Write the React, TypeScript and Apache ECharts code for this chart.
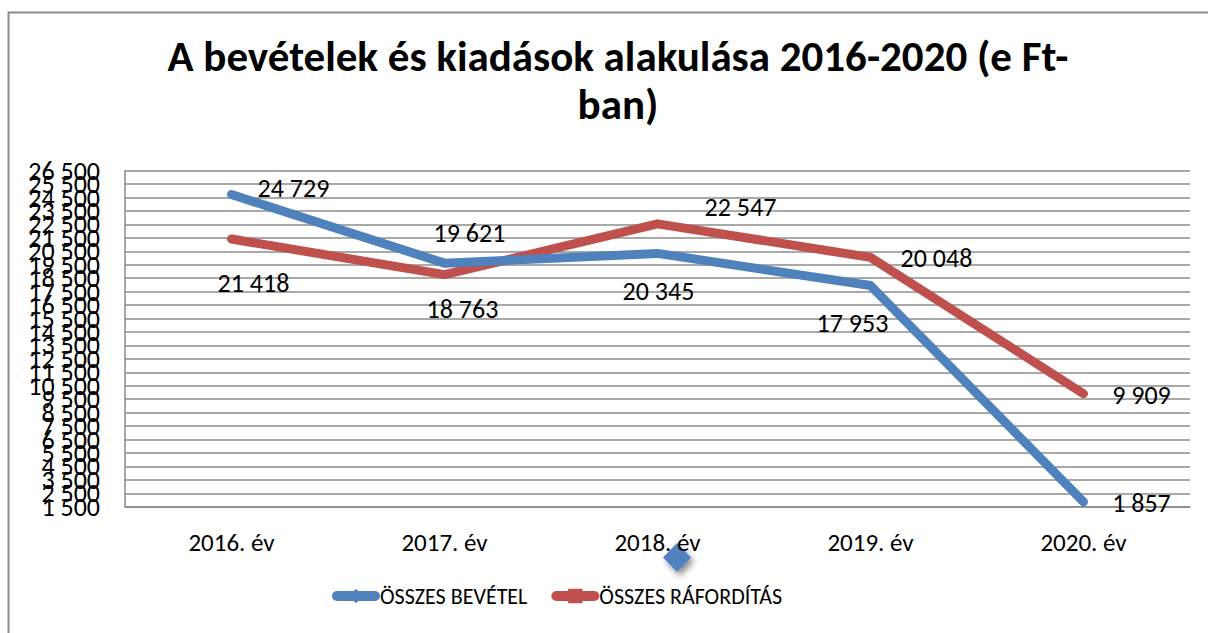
import React, { useEffect, useRef } from "react";
import * as echarts from "echarts";

const categories = ["2016. év", "2017. év", "2018. év", "2019. év", "2020. év"];
const bevetel = [24729, 19621, 20345, 17953, 1857];
const raforditas = [21418, 18763, 22547, 20048, 9909];
const bevetelLabelOffsets = [[62, -7], [25, -30], [1, 38], [-18, 37], [58, 1]];
const raforditasLabelOffsets = [[22, 44], [18, 34], [83, -17], [66, 1], [58, 1]];
const seriesNames = ["ÖSSZES BEVÉTEL", "ÖSSZES RÁFORDÍTÁS"];
const titleText = "A bevételek és kiadások alakulása 2016-2020 (e Ft-\nban)";
const yMin = 1500;
const yMax = 26500;
const yStep = 1000;

const FONT = "Carlito, 'Liberation Sans', sans-serif";
const fmt = (v: number) => {
  const s = Math.round(v).toString();
  return s.replace(/\B(?=(\d{3})+(?!\d))/g, " ");
};

export default function App() {
  const ref = useRef<HTMLDivElement>(null);
  useEffect(() => {
    document.body.style.margin = "0";
    const chart = echarts.init(ref.current!, undefined, { renderer: "svg" });
    const mk = (vals: number[], offs: number[][]) =>
      vals.map((v, i) => ({
        value: v,
        label: { offset: offs[i] },
      }));
    const labelBase = {
      show: true,
      position: "inside",
      align: "center",
      verticalAlign: "middle",
      fontFamily: FONT,
      fontSize: 26,
      color: "#000",
      formatter: (p: any) => fmt(p.value),
    };
    const yLabel = {
      fontFamily: FONT,
      fontSize: 26,
      lineHeight: 12,
      color: "#000",
      margin: 25,
      formatter: (v: number) => fmt(v),
    };
    chart.setOption({
      animation: false,
      title: {
        text: titleText,
        left: 613,
        top: 27,
        textAlign: "center",
        textStyle: {
          fontFamily: FONT,
          fontWeight: "bold",
          fontSize: 43,
          lineHeight: 48,
          color: "#000",
        },
      },
      legend: {
        left: 327,
        top: 580,
        itemWidth: 38,
        itemHeight: 18,
        itemGap: 24,
        lineStyle: { width: 10, cap: "round" },
        textStyle: { fontFamily: FONT, fontSize: 22, color: "#000", padding: [0, 0, 0, 0] },
        data: seriesNames,
      },
      grid: { left: 125, right: 18, top: 170.7, bottom: 126.3 },
      xAxis: {
        type: "category",
        data: categories,
        boundaryGap: true,
        axisTick: { show: false },
        axisLine: { lineStyle: { color: "#888", width: 1.5 } },
        axisLabel: { fontFamily: FONT, fontSize: 25, color: "#000", margin: 23 },
      },
      yAxis: [
        {
          type: "value",
          min: yMin,
          max: yMax,
          interval: yStep,
          position: "left",
          axisLine: { show: true, lineStyle: { color: "#888", width: 1.5 } },
          axisTick: { show: false },
          splitLine: { lineStyle: { color: "#8c8c8c", width: 1.5 } },
          axisLabel: { ...yLabel, showMinLabel: false, showMaxLabel: false },
        },
        {
          type: "value",
          min: yMin,
          max: yMax,
          interval: yMax - yMin,
          position: "left",
          axisLine: { show: false },
          axisTick: { show: false },
          splitLine: { show: false },
          axisLabel: { ...yLabel, showMinLabel: true, showMaxLabel: true },
        },
      ],
      series: [
        {
          name: seriesNames[0],
          type: "line",
          data: mk(bevetel, bevetelLabelOffsets),
          symbol: "diamond",
          symbolSize: 2,
          color: "#4F81BD",
          lineStyle: { width: 9, color: "#4F81BD", cap: "round", join: "round" },
          label: labelBase,
          z: 3,
        },
        {
          name: seriesNames[1],
          type: "line",
          data: mk(raforditas, raforditasLabelOffsets),
          symbol: "rect",
          symbolSize: 2,
          color: "#C0504D",
          lineStyle: { width: 9, color: "#C0504D", cap: "round", join: "round" },
          label: labelBase,
          z: 2,
        },
      ],
      graphic: [
        {
          type: "rect",
          shape: { x: 8.5, y: 12.5, width: 1220, height: 660 },
          style: { fill: "none", stroke: "#8a8a8a", lineWidth: 2 },
          silent: true,
        },
        {
          type: "polygon",
          shape: { points: [[677, 543], [691, 557.5], [677, 572], [663, 557.5]] },
          style: {
            fill: "#4F81BD",
            shadowBlur: 6,
            shadowOffsetX: 3,
            shadowOffsetY: 4,
            shadowColor: "rgba(0,0,0,0.45)",
          },
          silent: true,
        },
      ],
    });
    return () => chart.dispose();
  }, []);
  return <div ref={ref} style={{ width: 1208, height: 633 }} />;
}
